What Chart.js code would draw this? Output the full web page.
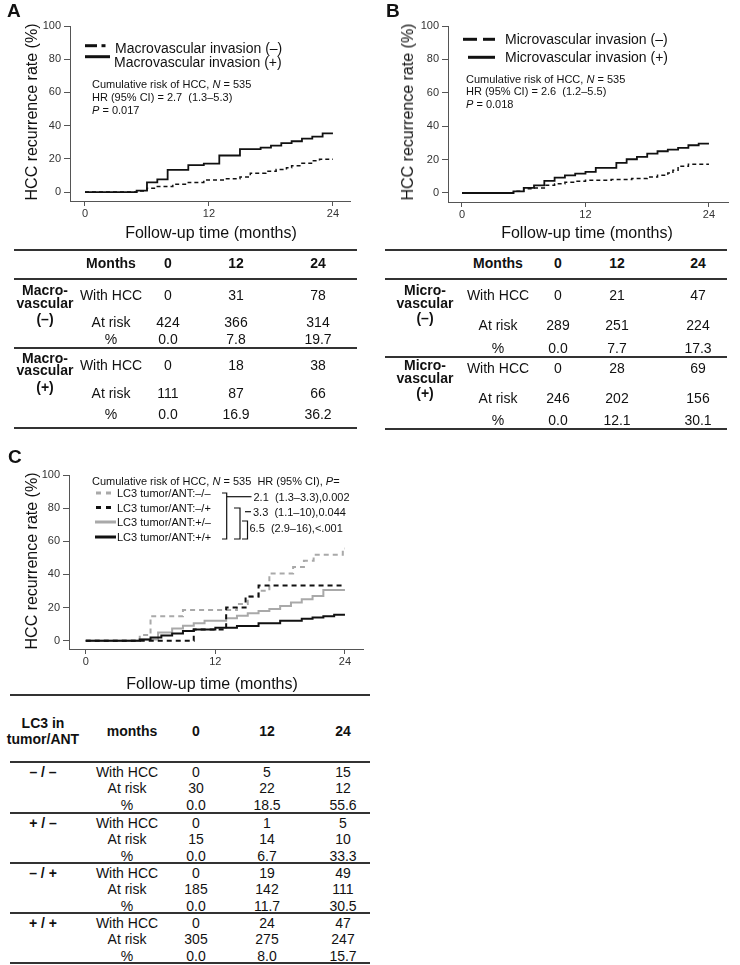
<!DOCTYPE html>
<html>
<head>
<meta charset="utf-8">
<title>HCC recurrence</title>
<script src="https://cdn.jsdelivr.net/npm/chart.js@4.4.1/dist/chart.umd.min.js"></script>
<style>
  body { margin: 0; background: #fff; }
  #page { position: relative; width: 740px; height: 965px; overflow: hidden;
          font-family: 'Liberation Sans', Arial, sans-serif; color: #111; }
  canvas { position: absolute; }
  .t { position: absolute; white-space: nowrap; line-height: 1; }
  .rule { position: absolute; height: 2px; background: #333; }
</style>
</head>
<body>
<div id="page">
  <canvas id="chartA" width="370" height="250" style="left:0;top:0"></canvas>
  <canvas id="chartB" width="370" height="250" style="left:370px;top:0"></canvas>
  <canvas id="chartC" width="370" height="260" style="left:0;top:440px"></canvas>
</div>
<script>
// axis ticks
const monthTicks = [0, 12, 24];
const riskTicks = [0, 20, 40, 60, 80, 100];

// A - macrovascular invasion, cumulative recurrence (%)
const macroNegTimes = [0, 5, 6, 7, 8.5, 10, 11.5, 13.5, 15, 16, 17.5, 18.5, 19.5, 20, 21, 22, 22.7, 24];
const macroNegRisk  = [0, 0.6, 2.3, 3.3, 4.7, 5.8, 7.2, 8.0, 9.0, 11.3, 12.5, 13.5, 14.7, 15.9, 17.3, 18.9, 19.7, 19.7];
const macroPosTimes = [0, 5, 6, 7, 8, 10, 11.5, 13, 15, 17, 18, 19, 20, 21, 22, 23, 24];
const macroPosRisk  = [0, 0.8, 5.8, 7.6, 13.3, 16.2, 17.1, 22.0, 25.8, 26.8, 27.9, 29.4, 30.6, 32.2, 33.4, 35.3, 35.3];

// B - microvascular invasion
const microNegTimes = [0, 5, 6, 7, 8, 9, 10, 11, 12, 14.5, 16.5, 18, 19, 20, 20.5, 21, 22, 24];
const microNegRisk  = [0, 1.0, 2.6, 3.0, 4.6, 5.6, 6.4, 7.0, 7.6, 8.0, 8.6, 9.6, 10.6, 12.0, 13.6, 16.0, 17.2, 17.2];
const microPosTimes = [0, 5, 6, 7, 8, 9, 10, 11, 12, 13, 15, 16, 17, 18, 19, 20, 21, 22, 23, 24];
const microPosRisk  = [0, 1.0, 3.0, 4.6, 7.2, 9.2, 10.6, 11.6, 12.6, 15.0, 18.0, 20.2, 21.6, 23.6, 25.0, 26.0, 27.0, 28.6, 29.6, 29.6];

// C - LC3 in tumor / adjacent non-tumor (legend order)
const lc3NegNegTimes = [0, 5, 6, 9, 14, 15, 16, 17, 19.2, 20.2, 21.1, 23.8, 24];
const lc3NegNegRisk  = [0, 3.4, 14.8, 18.5, 22.2, 26.5, 30.2, 40.5, 44.5, 48.2, 51.9, 55.6, 55.6];
const lc3NegPosTimes = [0, 10, 13, 14.8, 16, 24];
const lc3NegPosRisk  = [0, 6.7, 20.0, 26.7, 33.3, 33.3];
const lc3PosNegTimes = [0, 5, 6.7, 8, 9, 10, 11, 13, 14, 15, 16, 17, 18, 19, 20, 21, 22, 24];
const lc3PosNegRisk  = [0, 0.8, 5.0, 7.4, 9.0, 10.5, 12.0, 13.5, 15.0, 16.5, 18.0, 19.2, 21.0, 23.0, 25.0, 27.0, 30.6, 30.6];
const lc3PosPosTimes = [0, 5, 6, 7, 8, 9, 10, 12, 14, 16, 18, 20, 21, 22, 23, 24];
const lc3PosPosRisk  = [0, 0.8, 2.0, 3.2, 4.4, 5.8, 6.8, 7.8, 8.9, 10.5, 12.0, 13.3, 14.0, 14.8, 15.7, 15.7];

// number-at-risk tables
const tableMonths = ['0', '12', '24'];
const macroNegWithHcc = [0, 31, 78];
const macroNegAtRisk  = [424, 366, 314];
const macroNegPct     = [0.0, 7.8, 19.7];
const macroPosWithHcc = [0, 18, 38];
const macroPosAtRisk  = [111, 87, 66];
const macroPosPct     = [0.0, 16.9, 36.2];

const microNegWithHcc = [0, 21, 47];
const microNegAtRisk  = [289, 251, 224];
const microNegPct     = [0.0, 7.7, 17.3];
const microPosWithHcc = [0, 28, 69];
const microPosAtRisk  = [246, 202, 156];
const microPosPct     = [0.0, 12.1, 30.1];

const lc3Groups   = ['– / –', '+ / –', '– / +', '+ / +'];
const lc3WithHcc  = [[0, 5, 15], [0, 1, 5], [0, 19, 49], [0, 24, 47]];
const lc3AtRisk   = [[30, 22, 12], [15, 14, 10], [185, 142, 111], [305, 275, 247]];
const lc3Pct      = [[0.0, 18.5, 55.6], [0.0, 6.7, 33.3], [0.0, 11.7, 30.5], [0.0, 8.0, 15.7]];

const FONT = "'Liberation Sans', Arial, sans-serif";
const BLACK = '#111';
const GREY = '#a9a9a9';

const page = document.getElementById('page');

function text(html, x, y, o = {}) {
  const d = document.createElement('div');
  d.className = 't';
  d.innerHTML = html;
  d.style.left = x + 'px';
  d.style.top = y + 'px';
  d.style.fontSize = (o.size || 14) + 'px';
  if (o.bold) d.style.fontWeight = 'bold';
  const ax = o.align === 'left' ? '0' : '-50%';
  d.style.transform = `translate(${ax}, -50%)` + (o.rotate ? ' rotate(-90deg)' : '');
  page.appendChild(d);
}

function rule(x1, x2, y) {
  const d = document.createElement('div');
  d.className = 'rule';
  d.style.left = x1 + 'px';
  d.style.width = (x2 - x1) + 'px';
  d.style.top = (y - 1) + 'px';
  page.appendChild(d);
}

function seg(ctx, pts, color, width) {
  ctx.save();
  ctx.strokeStyle = color;
  ctx.lineWidth = width;
  ctx.beginPath();
  ctx.moveTo(pts[0][0], pts[0][1]);
  for (let i = 1; i < pts.length; i++) ctx.lineTo(pts[i][0], pts[i][1]);
  ctx.stroke();
  ctx.restore();
}

function series(times, values, color, width, dash) {
  return {
    data: times.map((t, i) => ({ x: t, y: values[i] })),
    stepped: true,
    borderColor: color,
    borderWidth: width,
    borderDash: dash || [],
    pointRadius: 0,
    fill: false
  };
}

// frame = plot box inside the canvas + axis ranges
function kmChart(id, frame, datasets, extras) {
  const cv = document.getElementById(id);
  const tickFont = { size: 11, family: FONT };
  return new Chart(cv, {
    type: 'line',
    data: { datasets },
    options: {
      responsive: false,
      animation: false,
      devicePixelRatio: 1,
      layout: {
        padding: {
          left: frame.left - 50,
          right: cv.width - frame.right,
          top: frame.top,
          bottom: cv.height - frame.bottom - 20
        }
      },
      plugins: { legend: { display: false }, tooltip: { enabled: false } },
      scales: {
        x: {
          type: 'linear',
          min: frame.xMin,
          max: frame.xMax,
          afterBuildTicks: s => { s.ticks = monthTicks.map(v => ({ value: v })); },
          afterFit: s => { s.height = 20; },
          grid: { drawOnChartArea: false, tickLength: 5, color: '#555' },
          border: { color: '#555' },
          ticks: { padding: 1, color: '#333', font: tickFont, maxRotation: 0, autoSkip: false }
        },
        y: {
          type: 'linear',
          min: frame.yMin,
          max: 100,
          afterBuildTicks: s => { s.ticks = riskTicks.map(v => ({ value: v })); },
          afterFit: s => { s.width = 50; },
          grid: { drawOnChartArea: false, tickLength: 6, color: '#555' },
          border: { color: '#555' },
          ticks: { padding: 3, color: '#333', font: tickFont }
        }
      }
    },
    plugins: [{ id: 'extras', afterDraw: c => extras(c.ctx) }]
  });
}

// ---------- Panel A ----------
kmChart('chartA',
  { left: 70, right: 350, top: 26, bottom: 201, xMin: -1.45, xMax: 25.65, yMin: -5.4 },
  [
    series(macroPosTimes, macroPosRisk, BLACK, 1.8),
    series(macroNegTimes, macroNegRisk, BLACK, 1.5, [4, 3])
  ],
  ctx => {
    seg(ctx, [[85, 45.7], [97, 45.7]], BLACK, 3);
    seg(ctx, [[101.5, 45.7], [105.5, 45.7]], BLACK, 3);
    seg(ctx, [[85, 56.7], [110, 56.7]], BLACK, 3);
  });

// ---------- Panel B ----------
kmChart('chartB',
  { left: 78, right: 358, top: 26, bottom: 202, xMin: -1.36, xMax: 25.85, yMin: -5.4 },
  [
    series(microPosTimes, microPosRisk, BLACK, 1.8),
    series(microNegTimes, microNegRisk, BLACK, 1.5, [4, 3])
  ],
  ctx => {
    seg(ctx, [[93, 39.3], [107, 39.3]], BLACK, 3);
    seg(ctx, [[113, 39.3], [125, 39.3]], BLACK, 3);
    seg(ctx, [[98, 57.3], [125, 57.3]], BLACK, 3);
  });

// ---------- Panel C ----------
kmChart('chartC',
  { left: 69, right: 363, top: 35, bottom: 209, xMin: -1.55, xMax: 25.67, yMin: -5.0 },
  [
    series(lc3PosPosTimes, lc3PosPosRisk, BLACK, 2),
    series(lc3NegPosTimes, lc3NegPosRisk, BLACK, 2, [5, 4]),
    series(lc3PosNegTimes, lc3PosNegRisk, GREY, 2),
    series(lc3NegNegTimes, lc3NegNegRisk, GREY, 2, [5, 4])
  ],
  ctx => {
    // legend samples
    seg(ctx, [[96, 53], [101, 53]], GREY, 3);
    seg(ctx, [[106, 53], [111, 53]], GREY, 3);
    seg(ctx, [[96, 67.5], [101, 67.5]], BLACK, 3);
    seg(ctx, [[106, 67.5], [111, 67.5]], BLACK, 3);
    seg(ctx, [[95, 82], [116, 82]], GREY, 3);
    seg(ctx, [[95, 97], [116, 97]], BLACK, 3);
    // comparison brackets
    seg(ctx, [[222, 53], [226.7, 53], [226.7, 99], [222, 99]], BLACK, 1.2);
    seg(ctx, [[226.7, 56.7], [251.5, 56.7]], BLACK, 1.2);
    seg(ctx, [[234, 68], [240, 68], [240, 99], [234, 99]], BLACK, 1.2);
    seg(ctx, [[245, 71.7], [251, 71.7]], BLACK, 1.2);
    seg(ctx, [[242, 81], [247.5, 81], [247.5, 99], [242, 99]], BLACK, 1.2);
  });

// ---------- chart texts ----------
text('A', 7, 10, { size: 19, bold: true, align: 'left' });
text('B', 386, 10, { size: 19, bold: true, align: 'left' });
text('C', 8, 456, { size: 19, bold: true, align: 'left' });

text('HCC recurrence rate (%)', 32, 112, { size: 16, rotate: true });
text('HCC recurrence rate (%)', 408, 112, { size: 16, rotate: true });
text('HCC recurrence rate (%)', 32, 561, { size: 16, rotate: true });
text('Follow-up time (months)', 211, 233, { size: 16 });
text('Follow-up time (months)', 587, 233, { size: 16 });
text('Follow-up time (months)', 212, 684, { size: 16 });

text('Macrovascular invasion (–)', 115, 48, { size: 14, align: 'left' });
text('Macrovascular invasion (+)', 114, 62, { size: 14, align: 'left' });
text('Cumulative risk of HCC, <i>N</i> = 535', 92, 84, { size: 11, align: 'left' });
text('HR (95% CI) = 2.7&nbsp; (1.3–5.3)', 92, 97, { size: 11, align: 'left' });
text('<i>P</i> = 0.017', 92, 110, { size: 11, align: 'left' });

text('Microvascular invasion (–)', 505, 39, { size: 14, align: 'left' });
text('Microvascular invasion (+)', 505, 57, { size: 14, align: 'left' });
text('Cumulative risk of HCC, <i>N</i> = 535', 466, 79, { size: 11, align: 'left' });
text('HR (95% CI) = 2.6&nbsp; (1.2–5.5)', 466, 91, { size: 11, align: 'left' });
text('<i>P</i> = 0.018', 466, 104, { size: 11, align: 'left' });

text('Cumulative risk of HCC, <i>N</i> = 535&nbsp; HR (95% CI), <i>P</i>=', 92, 481, { size: 11, align: 'left' });
text('LC3 tumor/ANT:–/–', 117, 493, { size: 11, align: 'left' });
text('LC3 tumor/ANT:–/+', 117, 507.5, { size: 11, align: 'left' });
text('LC3 tumor/ANT:+/–', 117, 522, { size: 11, align: 'left' });
text('LC3 tumor/ANT:+/+', 117, 537, { size: 11, align: 'left' });
text('2.1&nbsp; (1.3–3.3),0.002', 253.5, 497, { size: 11, align: 'left' });
text('3.3&nbsp; (1.1–10),0.044', 253, 511.7, { size: 11, align: 'left' });
text('6.5&nbsp; (2.9–16),&lt;.001', 249.5, 527.5, { size: 11, align: 'left' });

// ---------- tables ----------
const rowNames = ['With HCC', 'At risk', '%'];
function fmtRow(vals, i) { return i === 2 ? vals.map(v => v.toFixed(1)) : vals.map(String); }

function groupRows(rows, rowY, labelX, colX) {
  rows.forEach((vals, i) => {
    text(rowNames[i], labelX, rowY[i]);
    fmtRow(vals, i).forEach((v, j) => text(v, colX[j], rowY[i]));
  });
}

// A
[250, 279, 348.3, 428.3].forEach(y => rule(14, 357, y));
text('Months', 111, 263, { bold: true });
tableMonths.forEach((m, j) => text(m, [168, 236, 318][j], 263, { bold: true }));
['Macro-', 'vascular', '(–)'].forEach((s, i) => text(s, 45, [290, 302.7, 319.3][i], { bold: true }));
['Macro-', 'vascular', '(+)'].forEach((s, i) => text(s, 45, [358.3, 370, 386.7][i], { bold: true }));
groupRows([macroNegWithHcc, macroNegAtRisk, macroNegPct], [295, 321.7, 339.3], 111, [168, 236, 318]);
groupRows([macroPosWithHcc, macroPosAtRisk, macroPosPct], [365, 393.3, 414], 111, [168, 236, 318]);

// B
[250, 279, 356.7, 429.3].forEach(y => rule(385, 727, y));
text('Months', 498, 263, { bold: true });
tableMonths.forEach((m, j) => text(m, [558, 617, 698][j], 263, { bold: true }));
['Micro-', 'vascular', '(–)'].forEach((s, i) => text(s, 425, [290, 302.7, 318.3][i], { bold: true }));
['Micro-', 'vascular', '(+)'].forEach((s, i) => text(s, 425, [365, 378.3, 393.3][i], { bold: true }));
groupRows([microNegWithHcc, microNegAtRisk, microNegPct], [295, 325, 348.3], 498, [558, 617, 698]);
groupRows([microPosWithHcc, microPosAtRisk, microPosPct], [368.3, 398.3, 420], 498, [558, 617, 698]);

// C
[695, 761.7, 812.7, 863.3, 913.3, 963.3].forEach(y => rule(10, 370, y));
text('LC3 in', 43, 723.3, { bold: true });
text('tumor/ANT', 43, 739, { bold: true });
text('months', 132, 731, { bold: true });
tableMonths.forEach((m, j) => text(m, [196, 267, 343][j], 731, { bold: true }));
lc3Groups.forEach((g, k) => {
  const y0 = [771.7, 822.7, 872.7, 922.7][k];
  text(g, 43, y0, { bold: true });
  groupRows([lc3WithHcc[k], lc3AtRisk[k], lc3Pct[k]], [y0, y0 + 16.6, y0 + 33.3], 127, [196, 267, 343]);
});
</script>
</body>
</html>
